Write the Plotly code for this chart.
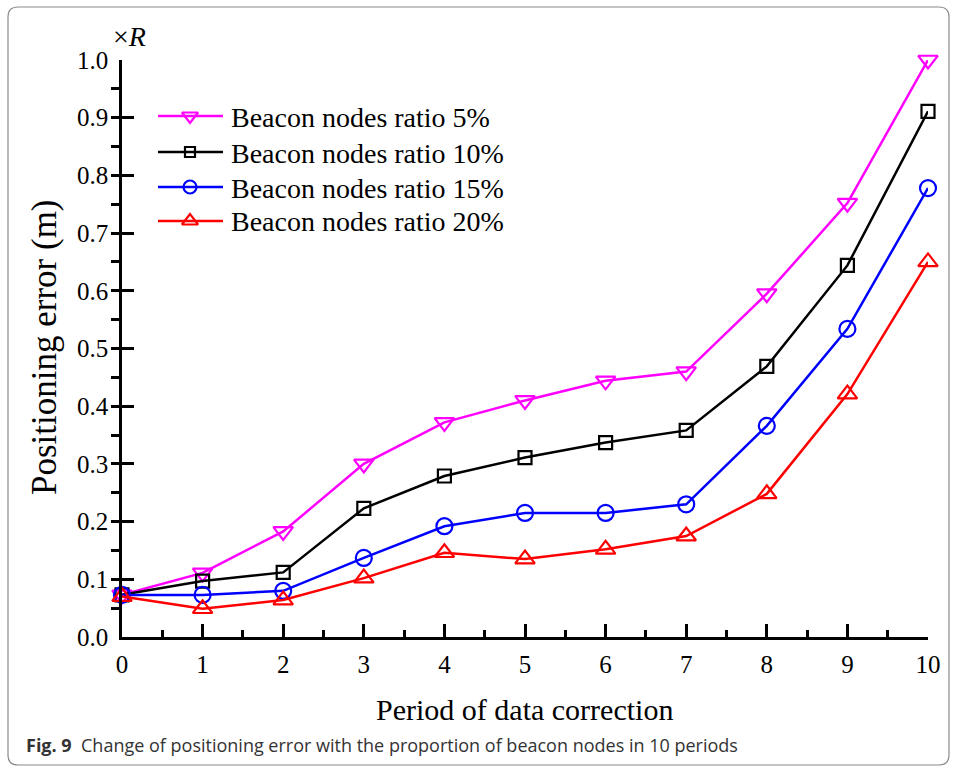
import plotly.graph_objects as go

# ---- data ----
periods = [0, 1, 2, 3, 4, 5, 6, 7, 8, 9, 10]
ratio_5 = [0.073, 0.111, 0.183, 0.300, 0.372, 0.410, 0.444, 0.460, 0.595, 0.752, 1.000]
ratio_10 = [0.073, 0.097, 0.112, 0.223, 0.279, 0.311, 0.337, 0.358, 0.469, 0.644, 0.911]
ratio_15 = [0.073, 0.073, 0.080, 0.137, 0.192, 0.215, 0.215, 0.230, 0.366, 0.534, 0.778]
ratio_20 = [0.070, 0.049, 0.064, 0.102, 0.146, 0.135, 0.152, 0.175, 0.248, 0.421, 0.650]
series_names = ["Beacon nodes ratio 5%", "Beacon nodes ratio 10%",
                "Beacon nodes ratio 15%", "Beacon nodes ratio 20%"]
x_ticks = [0, 1, 2, 3, 4, 5, 6, 7, 8, 9, 10]
y_ticks = [0.0, 0.1, 0.2, 0.3, 0.4, 0.5, 0.6, 0.7, 0.8, 0.9, 1.0]

W, H = 954, 771
L, R, T, B = 122, 928, 60, 637
SERIF = "Times New Roman, Liberation Serif, serif"

def px(x):
    return (x - L) / (R - L)

def py(y):
    return (B - y) / (B - T)

colors = ["#FF00FF", "#000000", "#0000FF", "#FF0000"]
symbols = ["triangle-down-open", "square-open", "circle-open", "triangle-up-open"]
msizes = [17, 13, 16, 17]
all_series = [ratio_5, ratio_10, ratio_15, ratio_20]

fig = go.Figure()
for name, vals, c, s, ms in zip(series_names, all_series, colors, symbols, msizes):
    fig.add_trace(go.Scatter(
        x=periods, y=vals, name=name, mode="lines+markers",
        line=dict(color=c, width=2.5),
        marker=dict(symbol=s, size=ms, color=c, line=dict(color=c, width=2.2)),
        cliponaxis=False, showlegend=False,
    ))

axis_common = dict(showgrid=False, zeroline=False, showline=True,
                   linecolor="black", linewidth=2.5, tickcolor="black",
                   tickwidth=2.5)

fig.update_layout(
    width=W, height=H,
    margin=dict(l=L, r=W - R, t=T, b=H - B),
    paper_bgcolor="white", plot_bgcolor="white",
    xaxis=dict(range=[0, 10], tickvals=x_ticks, ticks="inside", ticklen=13,
               minor=dict(ticks="inside", ticklen=7, dtick=0.5, tickwidth=2.5, tickcolor="black"),
               tickfont=dict(family=SERIF, size=25, color="black"),
               ticklabelstandoff=3, **axis_common),
    yaxis=dict(range=[0, 1], tickvals=y_ticks, tickformat=".1f", ticks="inside", ticklen=12,
               minor=dict(ticks="outside", ticklen=8, dtick=0.05, tickwidth=2.5, tickcolor="black"),
               tickfont=dict(family=SERIF, size=25, color="black"),
               ticklabelstandoff=6, **axis_common),
    xaxis2=dict(range=[0, 10], overlaying="x", side="top", anchor="y",
                tickvals=x_ticks, ticks="inside", ticklen=12, showticklabels=False,
                minor=dict(ticks="inside", ticklen=6, dtick=0.5, tickwidth=2.5, tickcolor="black"),
                **axis_common),
    yaxis2=dict(range=[0, 1], overlaying="y", side="right", anchor="x",
                tickvals=y_ticks, ticks="inside", ticklen=13, showticklabels=False,
                minor=dict(ticks="inside", ticklen=7, dtick=0.05, tickwidth=2.5, tickcolor="black"),
                **axis_common),
)

shapes = []
annotations = []

# legend (manual)
leg_rows = [116, 152, 187, 221]
for name, c, s, ms, yy in zip(series_names, colors, symbols, msizes, leg_rows):
    shapes.append(dict(type="line", xref="paper", yref="paper",
                       x0=px(158), x1=px(223), y0=py(yy), y1=py(yy),
                       line=dict(color=c, width=2.5)))
    annotations.append(dict(xref="paper", yref="paper", x=px(229), y=py(yy + 1),
                            xanchor="left", yanchor="middle", showarrow=False,
                            text=name, font=dict(family=SERIF, size=28, color="black")))

leg_x = [190, 190, 190, 190]
for i, (c, s, ms, yy) in enumerate(zip(colors, symbols, msizes, leg_rows)):
    fig.add_trace(go.Scatter(
        x=[px(leg_x[i])], y=[py(yy)], mode="markers", xaxis="x3", yaxis="y3",
        marker=dict(symbol=s, size=ms - 3, color=c, line=dict(color=c, width=2.2)),
        showlegend=False, hoverinfo="skip", cliponaxis=False))
fig.update_layout(
    xaxis3=dict(range=[0, 1], overlaying="x", visible=False, domain=[0, 1]),
    yaxis3=dict(range=[0, 1], overlaying="y", visible=False, domain=[0, 1]),
)

# axis titles
annotations.append(dict(xref="paper", yref="paper", x=px(524), y=py(709),
                        xanchor="center", yanchor="middle", showarrow=False,
                        text="Period of data correction",
                        font=dict(family=SERIF, size=30, color="black")))
annotations.append(dict(xref="paper", yref="paper", x=px(44), y=py(347),
                        xanchor="center", yanchor="middle", showarrow=False, textangle=-90,
                        text="Positioning error (m)",
                        font=dict(family=SERIF, size=35, color="black")))
annotations.append(dict(xref="paper", yref="paper", x=px(111), y=py(37),
                        xanchor="left", yanchor="middle", showarrow=False,
                        text="×<i>R</i>",
                        font=dict(family=SERIF, size=28, color="black")))
# caption
annotations.append(dict(xref="paper", yref="paper", x=px(24), y=py(745),
                        xanchor="left", yanchor="middle", showarrow=False,
                        text="<b>Fig. 9</b>  Change of positioning error with the proportion of beacon nodes in 10 periods",
                        font=dict(family="Open Sans, Noto Sans, sans-serif", size=18, color="#333333")))

# rounded border
x0, x1, y0, y1, r = px(8), px(949), py(7), py(765), 10
rx = r / (R - L)
ry = r / (B - T)
path = (f"M {x0+rx},{y0} L {x1-rx},{y0} Q {x1},{y0} {x1},{y0-ry} "
        f"L {x1},{y1+ry} Q {x1},{y1} {x1-rx},{y1} L {x0+rx},{y1} "
        f"Q {x0},{y1} {x0},{y1+ry} L {x0},{y0-ry} Q {x0},{y0} {x0+rx},{y0} Z")
shapes.append(dict(type="path", xref="paper", yref="paper", path=path,
                   line=dict(color="#8a8a8a", width=1.2), layer="below"))

fig.update_layout(shapes=shapes, annotations=annotations)
fig.write_html("out.html")
